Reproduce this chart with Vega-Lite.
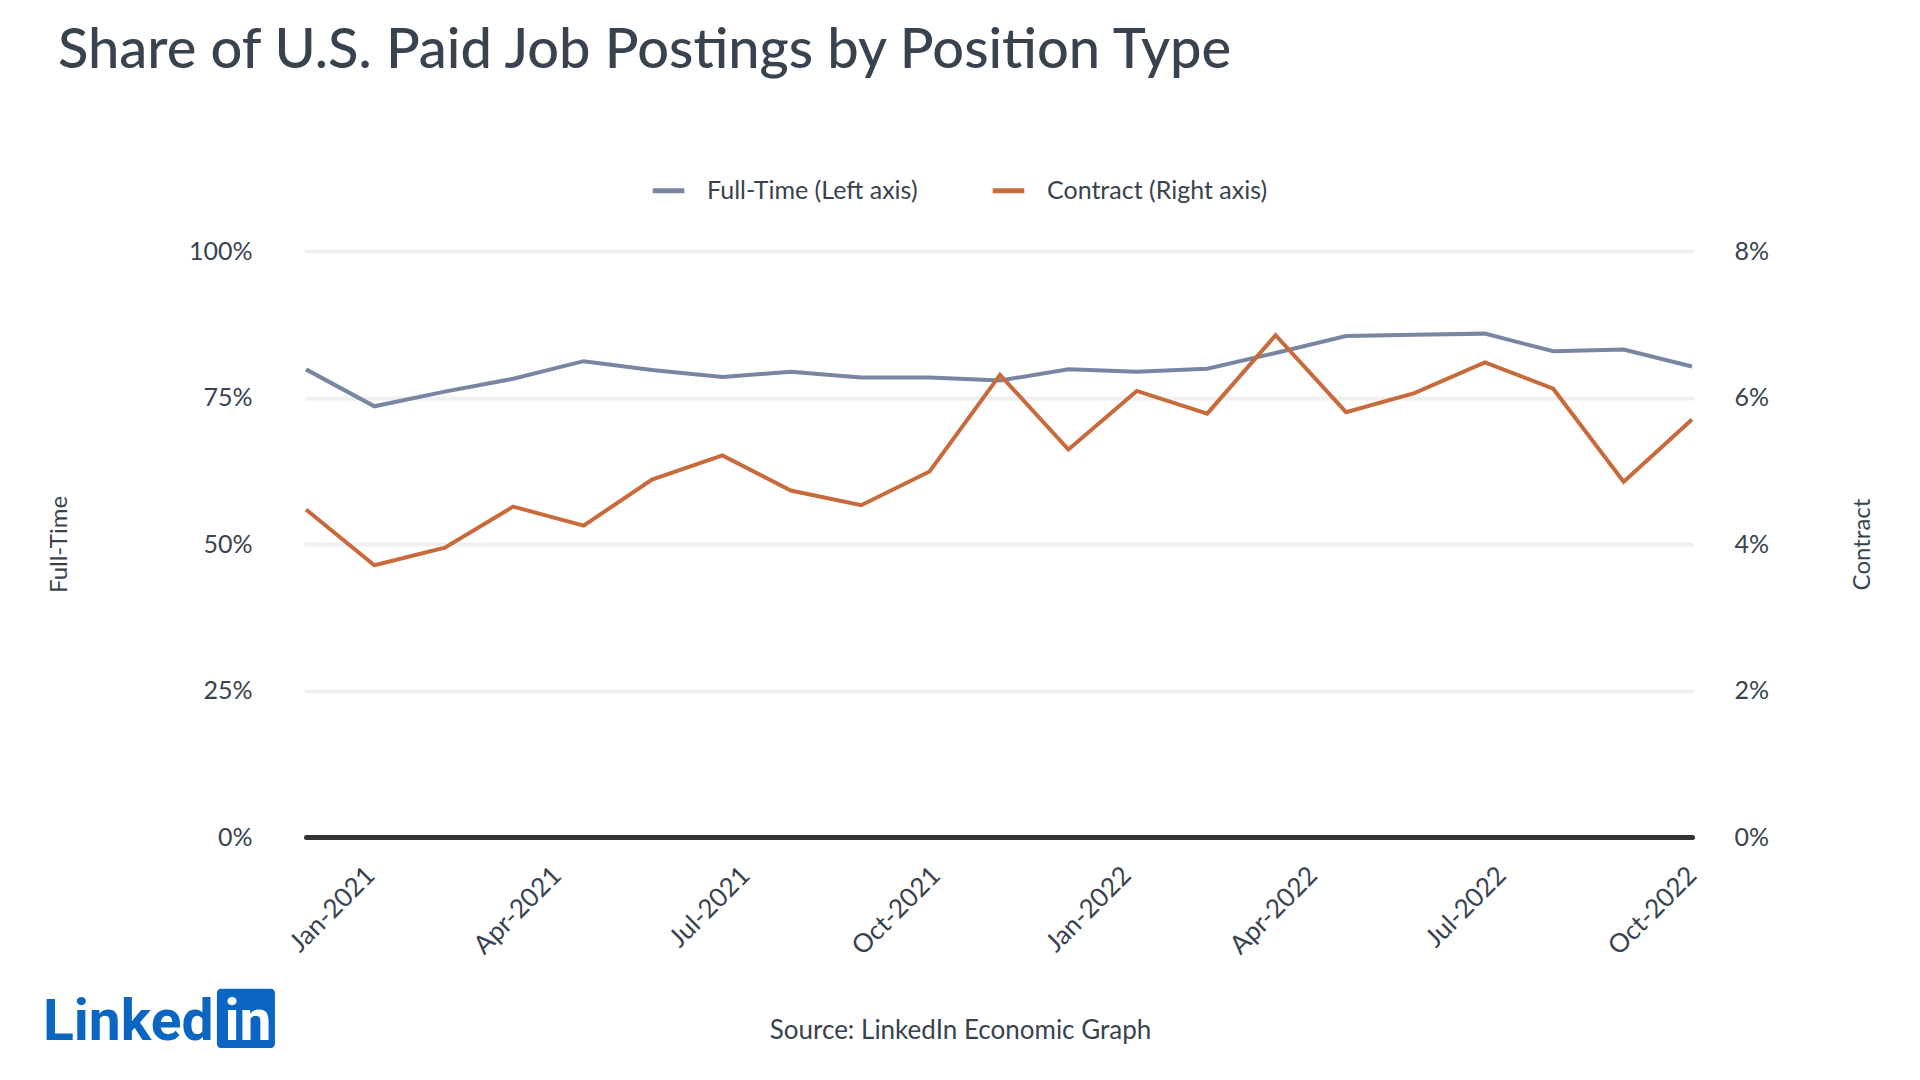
{
  "$schema": "https://vega.github.io/schema/vega-lite/v6.json",
  "width": 1386,
  "height": 586,
  "autosize": "none",
  "padding": {"left": 306, "top": 251, "right": 228, "bottom": 243},
  "background": "#ffffff",
  "title": {
    "text": "Share of U.S. Paid Job Postings by Position Type",
    "anchor": "start",
    "frame": "group",
    "dx": -248,
    "dy": -88,
    "fontSize": 56,
    "fontWeight": 500,
    "color": "#38434f"
  },
  "data": {
    "values": [
      {"date": "2020-12-01", "full_time": 0.798, "contract": 0.0447},
      {"date": "2021-01-03", "full_time": 0.735, "contract": 0.0371},
      {"date": "2021-02-06", "full_time": 0.760, "contract": 0.0395},
      {"date": "2021-03-11", "full_time": 0.782, "contract": 0.0451},
      {"date": "2021-04-14", "full_time": 0.812, "contract": 0.0425},
      {"date": "2021-05-17", "full_time": 0.797, "contract": 0.0488},
      {"date": "2021-06-20", "full_time": 0.785, "contract": 0.0521},
      {"date": "2021-07-23", "full_time": 0.794, "contract": 0.0473},
      {"date": "2021-08-26", "full_time": 0.784, "contract": 0.0453},
      {"date": "2021-09-28", "full_time": 0.784, "contract": 0.0499},
      {"date": "2021-11-01", "full_time": 0.779, "contract": 0.0631},
      {"date": "2021-12-04", "full_time": 0.798, "contract": 0.0529},
      {"date": "2022-01-06", "full_time": 0.794, "contract": 0.0609},
      {"date": "2022-02-09", "full_time": 0.799, "contract": 0.0578},
      {"date": "2022-03-14", "full_time": 0.826, "contract": 0.0685},
      {"date": "2022-04-17", "full_time": 0.855, "contract": 0.0580},
      {"date": "2022-05-20", "full_time": 0.857, "contract": 0.0606},
      {"date": "2022-06-23", "full_time": 0.859, "contract": 0.0648},
      {"date": "2022-07-26", "full_time": 0.829, "contract": 0.0612},
      {"date": "2022-08-29", "full_time": 0.832, "contract": 0.0485},
      {"date": "2022-10-01", "full_time": 0.803, "contract": 0.0570}
    ]
  },
  "layer": [
    {
      "layer": [
        {
          "mark": {"type": "line", "strokeWidth": 4, "strokeJoin": "miter"},
          "encoding": {
            "x": {
              "field": "date",
              "type": "temporal",
              "scale": {
                "type": "utc",
                "domain": [
                  {"year": 2020, "month": 12, "date": 1, "utc": true},
                  {"year": 2022, "month": 10, "date": 1, "utc": true}
                ]
              },
              "axis": {
                "values": [
                  {"year": 2021, "month": 1, "date": 1, "utc": true},
                  {"year": 2021, "month": 4, "date": 1, "utc": true},
                  {"year": 2021, "month": 7, "date": 1, "utc": true},
                  {"year": 2021, "month": 10, "date": 1, "utc": true},
                  {"year": 2022, "month": 1, "date": 1, "utc": true},
                  {"year": 2022, "month": 4, "date": 1, "utc": true},
                  {"year": 2022, "month": 7, "date": 1, "utc": true},
                  {"year": 2022, "month": 10, "date": 1, "utc": true}
                ],
                "format": "%b-%Y",
                "labelAngle": -45,
                "labelAlign": "right",
                "labelBaseline": "middle",
                "labelPadding": 34,
                "labelFontSize": 26,
                "labelColor": "#38434f",
                "labelOverlap": false,
                "labelFlush": false,
                "ticks": false,
                "grid": false,
                "domainColor": "#333333",
                "domainWidth": 5,
                "domainCap": "round",
                "title": "Source: LinkedIn Economic Graph",
                "titleFontSize": 26,
                "titleFontWeight": "normal",
                "titleColor": "#38434f",
                "titleX": 654,
                "titleY": 201,
                "titleBaseline": "alphabetic"
              }
            },
            "y": {
              "field": "full_time",
              "type": "quantitative",
              "scale": {"domain": [0, 1]},
              "axis": {
                "orient": "left",
                "values": [0, 0.25, 0.5, 0.75, 1],
                "format": ".0%",
                "title": "Full-Time",
                "titleFontSize": 24,
                "titleFontWeight": "normal",
                "titleColor": "#38434f",
                "titlePadding": 117,
                "labelFontSize": 25,
                "labelColor": "#38434f",
                "labelPadding": 54,
                "domain": false,
                "ticks": false,
                "gridColor": "#f0f0f0",
                "gridWidth": 4,
                "gridCap": "round"
              }
            },
            "color": {
              "datum": "Full-Time (Left axis)",
              "type": "nominal",
              "scale": {
                "domain": ["Full-Time (Left axis)", "Contract (Right axis)"],
                "range": ["#7886a3", "#c86b3c"]
              },
              "legend": {
                "orient": "none",
                "legendX": 344,
                "legendY": -79,
                "direction": "horizontal",
                "title": null,
                "symbolType": "stroke",
                "symbolStrokeWidth": 5,
                "symbolSize": 1000,
                "labelFontSize": 25,
                "labelColor": "#38434f",
                "labelLimit": 0,
                "labelOffset": 20,
                "columnPadding": 64
              }
            }
          }
        },
        {
          "data": {"values": [{"logo": "in"}]},
          "mark": {"type": "rect", "color": "#0a66c2", "cornerRadius": 4},
          "encoding": {
            "x": {"datum": {"year": 2020, "month": 10, "date": 19, "utc": true}, "type": "temporal"},
            "x2": {"datum": {"year": 2020, "month": 11, "date": 16, "utc": true}},
            "y": {"datum": -0.259, "type": "quantitative"},
            "y2": {"datum": -0.36}
          }
        },
        {
          "data": {"values": [{"logo": "Linked"}]},
          "mark": {"type": "text", "align": "left", "baseline": "alphabetic", "font": "Roboto", "fontWeight": "bold", "fontSize": 57, "color": "#0a66c2"},
          "encoding": {
            "x": {"datum": {"year": 2020, "month": 7, "date": 27, "utc": true}, "type": "temporal"},
            "y": {"datum": -0.346, "type": "quantitative"},
            "text": {"field": "logo"}
          }
        },
        {
          "data": {"values": [{"logo": "in"}]},
          "mark": {"type": "text", "align": "center", "baseline": "alphabetic", "font": "Roboto", "fontWeight": "bold", "fontSize": 57, "color": "#ffffff"},
          "encoding": {
            "x": {"datum": {"year": 2020, "month": 11, "date": 3, "utc": true}, "type": "temporal"},
            "y": {"datum": -0.346, "type": "quantitative"},
            "text": {"field": "logo"}
          }
        }
      ]
    },
    {
      "mark": {"type": "line", "strokeWidth": 4, "strokeJoin": "miter"},
      "encoding": {
        "x": {"field": "date", "type": "temporal"},
        "y": {
          "field": "contract",
          "type": "quantitative",
          "scale": {"domain": [0, 0.08]},
          "axis": {
            "orient": "right",
            "values": [0, 0.02, 0.04, 0.06, 0.08],
            "format": ".0%",
            "title": "Contract",
            "titleAngle": -90,
            "titleFontSize": 24,
            "titleFontWeight": "normal",
            "titleColor": "#38434f",
            "titlePadding": 106,
            "labelFontSize": 25,
            "labelColor": "#38434f",
            "labelPadding": 42,
            "domain": false,
            "ticks": false,
            "grid": false
          }
        },
        "color": {"datum": "Contract (Right axis)", "type": "nominal"}
      }
    }
  ],
  "resolve": {"scale": {"y": "independent"}},
  "config": {
    "font": "Lato",
    "view": {"stroke": null}
  }
}
